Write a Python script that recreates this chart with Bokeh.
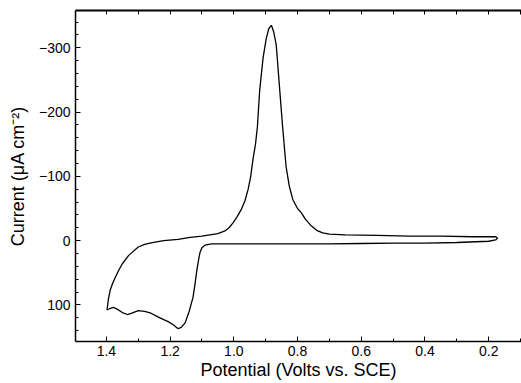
from bokeh.plotting import figure
from bokeh.models import Range1d, FixedTicker, LinearAxis, NumeralTickFormatter
from bokeh.embed import file_html
from bokeh.resources import INLINE

# Lower branch (anodic sweep) from 0.172 V to 1.398 V
pot_fwd = [0.172, 0.178, 0.20, 0.30, 0.40, 0.50, 0.60, 0.70, 0.80, 0.90, 1.00, 1.05,
           1.07, 1.09, 1.10, 1.106, 1.11, 1.116, 1.122, 1.128, 1.14, 1.153, 1.165,
           1.175, 1.19, 1.206, 1.22, 1.237, 1.26, 1.28, 1.30, 1.32, 1.334, 1.35,
           1.365, 1.378, 1.39, 1.398]
cur_fwd = [-4, -1, 1, 3, 4, 4, 4.5, 5, 5, 5, 5, 5,
           5, 7, 11, 18, 28, 46, 68, 88, 110, 128, 135,
           137, 131, 126, 123, 119, 113, 110, 109, 113, 115, 112,
           107, 104, 106, 108]

# Upper branch (return sweep) from 1.398 V back to 0.172 V
pot_rev = [1.398, 1.394, 1.388, 1.38, 1.372, 1.36, 1.35, 1.33, 1.30, 1.28, 1.256,
           1.22, 1.175, 1.137, 1.10, 1.075, 1.05, 1.028, 1.015, 1.002, 0.99, 0.976,
           0.965, 0.955, 0.947, 0.940, 0.932, 0.926, 0.919, 0.908, 0.898, 0.89,
           0.882, 0.875, 0.867, 0.859, 0.851, 0.846, 0.836, 0.826, 0.815, 0.80,
           0.789, 0.775, 0.757, 0.74, 0.721, 0.70, 0.65, 0.55, 0.45, 0.35, 0.25,
           0.19, 0.178, 0.172]
cur_rev = [108, 92, 77, 66, 57, 45, 36, 23, 10, 6, 3,
           0, -2, -5, -7, -9, -11, -15, -20, -28, -37, -49,
           -62, -80, -100, -126, -150, -177, -233, -285, -315, -330,
           -335, -325, -305, -254, -203, -172, -115, -85, -64, -50,
           -44, -33, -23, -16, -12, -10, -9, -8, -7, -7, -6,
           -6, -6, -4]

x_major = [1.4, 1.2, 1.0, 0.8, 0.6, 0.4, 0.2]
x_minor = [1.5, 1.3, 1.1, 0.9, 0.7, 0.5, 0.3, 0.1]
y_major = [-300, -200, -100, 0, 100]
y_minor = [v for v in range(-360, 161, 20) if v % 100 != 0]

FONT = "Liberation Sans"

p = figure(width=521, height=383, output_backend="svg", toolbar_location=None,
           x_range=Range1d(1.497, 0.097), y_range=Range1d(157, -358),
           min_border_left=75, min_border_right=0, min_border_top=10,
           min_border_bottom=42)
p.outline_line_color = None
p.background_fill_color = "white"
p.border_fill_color = "white"
p.xgrid.visible = False
p.ygrid.visible = False

p.line(pot_fwd + pot_rev, cur_fwd + cur_rev, line_color="black", line_width=1.3)

for ax in (p.xaxis[0], p.yaxis[0]):
    ax.major_tick_in = 5
    ax.major_tick_out = 0
    ax.minor_tick_in = 3
    ax.minor_tick_out = 0
    ax.axis_line_width = 1.5
    ax.major_label_text_font = FONT
    ax.major_label_text_font_size = "14px"
    ax.major_label_text_color = "black"
    ax.axis_label_text_font = FONT
    ax.axis_label_text_font_size = "18px"
    ax.axis_label_text_font_style = "normal"
    ax.axis_label_text_color = "black"

p.xaxis[0].ticker = FixedTicker(ticks=x_major, minor_ticks=x_minor)
p.xaxis[0].formatter = NumeralTickFormatter(format="0.0")
p.xaxis[0].axis_label = "Potential (Volts vs. SCE)"
p.xaxis[0].major_label_standoff = 4
p.xaxis[0].axis_label_standoff = 1

p.yaxis[0].ticker = FixedTicker(ticks=y_major, minor_ticks=y_minor)
p.yaxis[0].axis_label = "Current (μA cm⁻²)"
p.yaxis[0].major_label_standoff = 5
p.yaxis[0].axis_label_standoff = 8

# Top frame line with unlabelled inward ticks (all drawn as minor ticks, so no labels)
top = LinearAxis(ticker=FixedTicker(ticks=[], minor_ticks=x_major + x_minor),
                 major_tick_in=0, major_tick_out=0,
                 minor_tick_in=4, minor_tick_out=0, axis_line_width=2)
p.add_layout(top, "above")

open("out.html", "w").write(file_html(p, INLINE))
